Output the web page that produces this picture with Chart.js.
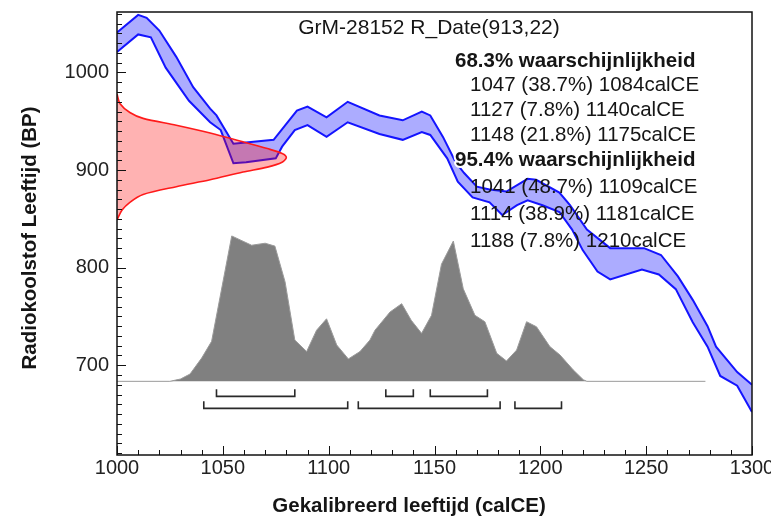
<!DOCTYPE html>
<html>
<head>
<meta charset="utf-8">
<script src="https://cdn.jsdelivr.net/npm/chart.js@4.4.0/dist/chart.umd.min.js"></script>
<style>
    html, body { margin: 0; padding: 0; background: #fff; }
    #wrap { width: 771px; height: 518px; }
</style>
</head>
<body>
<div id="wrap"><canvas id="chart" width="771" height="518"></canvas></div>
<script>
// Sample and summary text
const sampleTitle = 'GrM-28152 R_Date(913,22)';
const xAxisTitle = 'Gekalibreerd leeftijd (calCE)';
const yAxisTitle = 'Radiokoolstof Leeftijd (BP)';

// Calibration curve band (calCE vs BP)
const calUpperYears = [1000, 1010, 1014, 1020, 1028, 1036, 1044, 1047, 1055, 1074, 1085, 1090, 1099, 1109, 1124, 1135, 1144, 1148, 1154, 1160, 1164, 1170, 1176, 1184, 1194, 1198, 1209, 1214, 1222, 1233, 1249, 1257, 1265, 1272, 1279, 1283, 1293, 1300];
const calUpperBP = [1041, 1059, 1056, 1043, 1016, 985, 963, 956, 927, 931, 961, 965, 954, 970, 956, 951, 960, 956, 934, 908, 897, 883, 880, 878, 891, 890, 877, 864, 839, 820, 820, 813, 791, 767, 740, 719, 693, 680];
const calLowerYears = [1000, 1010, 1016, 1023, 1034, 1044, 1049, 1055, 1061, 1075, 1078, 1084, 1090, 1099, 1109, 1124, 1135, 1144, 1148, 1156, 1161, 1168, 1176, 1182, 1189, 1194, 1201, 1209, 1215, 1220, 1227, 1233, 1248, 1256, 1264, 1272, 1279, 1285, 1293, 1300];
const calLowerBP = [1021, 1039, 1036, 1005, 971, 949, 941, 907, 908, 912, 924, 941, 946, 934, 949, 937, 931, 939, 936, 912, 888, 872, 867, 854, 864, 869, 864, 857, 839, 818, 796, 788, 798, 793, 778, 744, 719, 689, 679, 652];

// Radiocarbon measurement distribution (relative probability by BP)
const measBP = [978, 968, 959, 953, 946, 938, 929, 922, 917, 913, 908, 903, 898, 890, 883, 875, 867, 859, 849];
const measProb = [0, 0.018, 0.076, 0.154, 0.35, 0.55, 0.744, 0.888, 0.975, 1, 0.975, 0.888, 0.744, 0.55, 0.35, 0.154, 0.076, 0.03, 0];

// Calibrated distribution (relative probability by calCE)
const calibYears = [1000, 1025, 1030, 1034.5, 1040, 1044.7, 1054.2, 1063.6, 1070, 1074.6, 1079.4, 1084, 1089.6, 1094.3, 1099, 1103.8, 1109.3, 1114.8, 1119.5, 1121.9, 1129, 1134.5, 1139, 1143.9, 1148.6, 1153.3, 1158.9, 1163.6, 1169.1, 1173.8, 1179.4, 1184, 1188.8, 1193.5, 1198.2, 1204.5, 1209.3, 1215.5, 1220.3, 1222, 1278];
const calibProb = [0, 0, 0.016, 0.05, 0.16, 0.275, 1, 0.936, 0.95, 0.93, 0.684, 0.284, 0.205, 0.352, 0.43, 0.25, 0.154, 0.205, 0.284, 0.352, 0.477, 0.534, 0.42, 0.33, 0.454, 0.806, 0.965, 0.636, 0.454, 0.41, 0.193, 0.14, 0.215, 0.41, 0.375, 0.239, 0.181, 0.079, 0.011, 0, 0];

// Highest posterior density ranges [from, to, percent]
const range68 = [[1047, 1084, 38.7], [1127, 1140, 7.8], [1148, 1175, 21.8]];
const range95 = [[1041, 1109, 48.7], [1114, 1181, 38.9], [1188, 1210, 7.8]];

// Axis ticks
const xTickValues = [1000, 1050, 1100, 1150, 1200, 1250, 1300];
const yTickValues = [700, 800, 900, 1000];

const FONT = '"Liberation Sans", Arial, sans-serif';
const yMin = 608, yMax = 1062;
// baseline of calibrated distribution sits at 683.5 BP, peak at 832.5 BP
const probBase = 683.5, probSpan = 149;

const toPoints = (xs, ys) => xs.map((x, i) => ({ x: x, y: ys[i] }));

const decorations = {
    id: 'decorations',
    afterDatasetsDraw(chart) {
        const { ctx, chartArea: a, scales } = chart;
        const xs = scales.x, ys = scales.y;
        ctx.save();

        // HPD brackets under the distribution
        const base = scales.yProb.getPixelForValue(0);
        ctx.strokeStyle = '#2a2a2a';
        ctx.lineWidth = 1.6;
        [[range68, 15], [range95, 27]].forEach(([ranges, off]) => {
            ranges.forEach(r => {
                const x1 = xs.getPixelForValue(r[0]);
                const x2 = xs.getPixelForValue(r[1]);
                const y = base + off;
                ctx.beginPath();
                ctx.moveTo(x1, y - 7);
                ctx.lineTo(x1, y);
                ctx.lineTo(x2, y);
                ctx.lineTo(x2, y - 7);
                ctx.stroke();
            });
        });

        // frame and inward ticks
        ctx.strokeStyle = '#111';
        ctx.lineWidth = 1.5;
        ctx.strokeRect(a.left, a.top, a.right - a.left, a.bottom - a.top);
        ctx.lineWidth = 1;
        ctx.beginPath();
        for (let v = 1000; v <= 1300; v += 10) {
            const px = Math.round(xs.getPixelForValue(v)) + 0.5;
            const len = v % 50 === 0 ? 9 : 5;
            ctx.moveTo(px, a.bottom);
            ctx.lineTo(px, a.bottom - len);
        }
        for (let v = 610; v <= 1060; v += 10) {
            const py = Math.round(ys.getPixelForValue(v)) + 0.5;
            const len = v % 100 === 0 ? 9 : 5;
            ctx.moveTo(a.left, py);
            ctx.lineTo(a.left + len, py);
        }
        ctx.stroke();

        // title and range summary
        ctx.textBaseline = 'middle';
        ctx.fillStyle = '#151515';
        ctx.textAlign = 'center';
        ctx.font = '21px ' + FONT;
        ctx.fillText(sampleTitle, 429, 28);

        ctx.textAlign = 'left';
        const lines = [];
        lines.push({ t: '68.3% waarschijnlijkheid', bold: true });
        range68.forEach(r => lines.push({ t: `${r[0]} (${r[2]}%) ${r[1]}calCE` }));
        lines.push({ t: '95.4% waarschijnlijkheid', bold: true });
        range95.forEach(r => lines.push({ t: `${r[0]} (${r[2]}%) ${r[1]}calCE` }));
        const rowY = [61, 85, 110, 135, 160, 187, 214, 241];
        lines.forEach((l, i) => {
            if (l.bold) {
                ctx.font = 'bold 20.5px ' + FONT;
                ctx.strokeStyle = '#fff';
                ctx.lineWidth = 4;
                ctx.lineJoin = 'round';
                ctx.strokeText(l.t, 455, rowY[i]);
                ctx.fillText(l.t, 455, rowY[i]);
            } else {
                ctx.font = '20.5px ' + FONT;
                ctx.fillText(l.t, 470, rowY[i]);
            }
        });

        // axis titles
        ctx.font = 'bold 20.5px ' + FONT;
        ctx.textAlign = 'center';
        ctx.fillText(xAxisTitle, 409, 506);
        ctx.translate(30, 238);
        ctx.rotate(-Math.PI / 2);
        ctx.fillText(yAxisTitle, 0, 0);
        ctx.restore();
    }
};

new Chart(document.getElementById('chart'), {
    type: 'line',
    data: {
        datasets: [
            {
                label: 'R_Date',
                data: toPoints(measProb, measBP),
                xAxisID: 'xProb',
                yAxisID: 'y',
                borderColor: '#ff1a1a',
                borderWidth: 1.6,
                backgroundColor: 'rgba(255, 0, 0, 0.3)',
                fill: 'shape',
                tension: 0.3,
                pointRadius: 0,
                order: 0
            },
            {
                label: 'IntCal upper',
                data: toPoints(calUpperYears, calUpperBP),
                borderColor: '#1414ff',
                borderWidth: 2,
                backgroundColor: 'rgba(90, 90, 255, 0.5)',
                fill: false,
                pointRadius: 0,
                order: 1
            },
            {
                label: 'IntCal lower',
                data: toPoints(calLowerYears, calLowerBP),
                borderColor: '#1414ff',
                borderWidth: 2,
                backgroundColor: 'rgba(90, 90, 255, 0.5)',
                fill: '-1',
                pointRadius: 0,
                order: 1
            },
            {
                label: 'Calibrated',
                data: toPoints(calibYears, calibProb),
                yAxisID: 'yProb',
                borderColor: '#9a9a9a',
                borderWidth: 1,
                backgroundColor: '#808080',
                fill: 'origin',
                pointRadius: 0,
                order: 2
            }
        ]
    },
    options: {
        responsive: false,
        animation: false,
        devicePixelRatio: 1,
        layout: { padding: { top: 12, right: 19, left: 0, bottom: 0 } },
        plugins: {
            legend: { display: false },
            tooltip: { enabled: false }
        },
        scales: {
            x: {
                type: 'linear',
                min: 1000,
                max: 1300,
                afterBuildTicks: s => { s.ticks = xTickValues.map(v => ({ value: v })); },
                afterFit: s => { s.height = 63; s.paddingLeft = 0; s.paddingRight = 0; },
                grid: { display: false, drawTicks: false },
                border: { display: false },
                ticks: { padding: 1, color: '#222', font: { family: FONT, size: 20 }, maxRotation: 0, callback: v => String(v) }
            },
            y: {
                type: 'linear',
                min: yMin,
                max: yMax,
                afterBuildTicks: s => { s.ticks = yTickValues.map(v => ({ value: v })); },
                afterFit: s => { s.width = 117; s.paddingTop = 0; s.paddingBottom = 0; },
                grid: { display: false, drawTicks: false },
                border: { display: false },
                ticks: { padding: 8, color: '#222', font: { family: FONT, size: 20 }, callback: v => String(v) }
            },
            xProb: {
                type: 'linear',
                display: false,
                position: 'bottom',
                min: 0,
                max: 300 / 80
            },
            yProb: {
                type: 'linear',
                display: false,
                position: 'left',
                min: (yMin - probBase) / probSpan,
                max: (yMax - probBase) / probSpan
            }
        }
    },
    plugins: [decorations]
});
</script>
</body>
</html>
